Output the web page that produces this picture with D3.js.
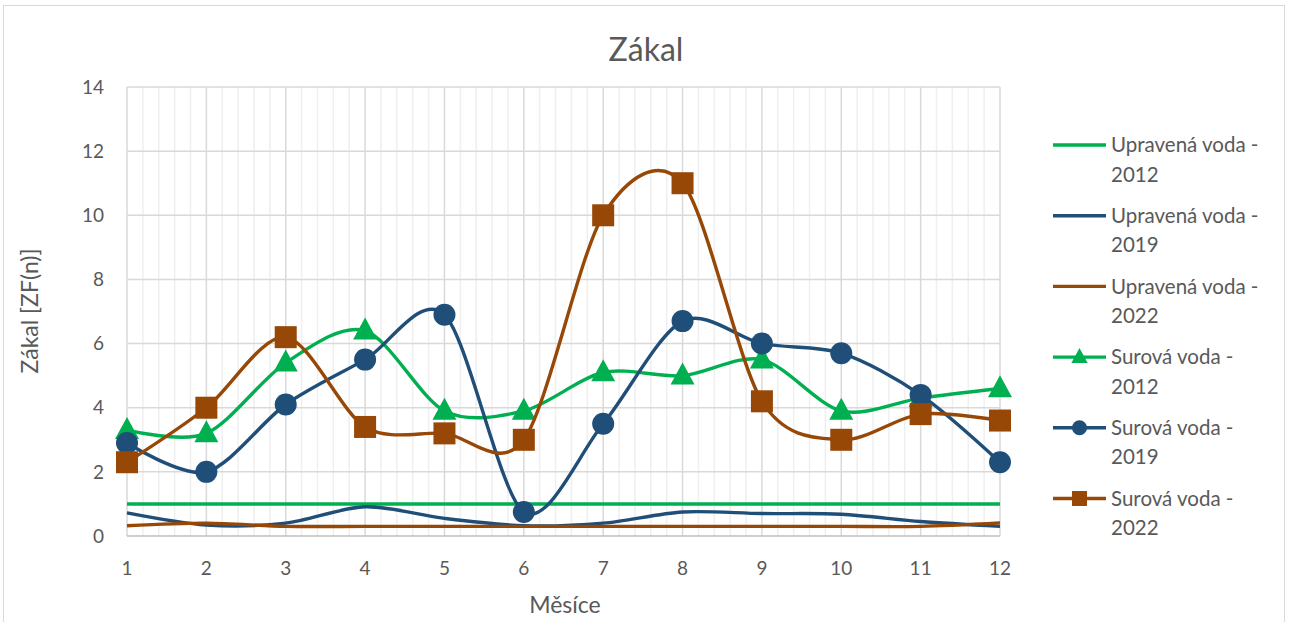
<!DOCTYPE html>
<html>
<head>
<meta charset="utf-8">
<script src="https://cdn.jsdelivr.net/npm/d3@7"></script>
<style>
  body { margin: 0; background: #fff; }
  text { font-family: Lato, "Noto Sans", sans-serif; fill: #595959; }
</style>
</head>
<body>
<svg id="chart" width="1290" height="622"></svg>
<script>
const months = [1, 2, 3, 4, 5, 6, 7, 8, 9, 10, 11, 12];
const yTicks = [0, 2, 4, 6, 8, 10, 12, 14];

const upravena2012 = [1, 1, 1, 1, 1, 1, 1, 1, 1, 1, 1, 1];
const upravena2019 = [0.72, 0.34, 0.4, 0.91, 0.55, 0.32, 0.4, 0.75, 0.7, 0.68, 0.45, 0.3];
const upravena2022 = [0.32, 0.4, 0.3, 0.3, 0.3, 0.3, 0.3, 0.3, 0.3, 0.3, 0.3, 0.41];
const surova2012 = [3.3, 3.2, 5.4, 6.4, 3.9, 3.9, 5.1, 5.0, 5.5, 3.9, 4.3, 4.6];
const surova2019 = [2.9, 2.0, 4.1, 5.5, 6.9, 0.75, 3.5, 6.7, 6.0, 5.7, 4.4, 2.3];
const surova2022 = [2.3, 4.0, 6.2, 3.4, 3.2, 3.0, 10.0, 11.0, 4.2, 3.0, 3.8, 3.6];

const green = "#00b050", blue = "#1f4e79", brown = "#974706";

const series = [
  { name: ["Upravená voda -", "2012"], values: upravena2012, color: green, marker: null },
  { name: ["Upravená voda -", "2019"], values: upravena2019, color: blue, marker: null },
  { name: ["Upravená voda -", "2022"], values: upravena2022, color: brown, marker: null },
  { name: ["Surová voda -", "2012"], values: surova2012, color: green, marker: "triangle" },
  { name: ["Surová voda -", "2019"], values: surova2019, color: blue, marker: "circle" },
  { name: ["Surová voda -", "2022"], values: surova2022, color: brown, marker: "square" }
];

const svg = d3.select("#chart");

// outer chart border
svg.append("rect")
  .attr("x", 3.5).attr("y", 5.5)
  .attr("width", 1281).attr("height", 622)
  .attr("fill", "#fff")
  .attr("stroke", "#d9d9d9");

const x = d3.scaleLinear().domain([1, 12]).range([127, 1000]);
const y = d3.scaleLinear().domain([0, 14]).range([536, 87]);

// minor vertical grid
let minor = d3.range(1, 12.001, 0.2).filter(v => Math.abs(v - Math.round(v)) > 0.01);
svg.append("g").selectAll("line")
  .data(minor)
  .enter()
  .append("line")
  .attr("x1", d => x(d)).attr("x2", d => x(d))
  .attr("y1", y(14)).attr("y2", y(0))
  .attr("stroke", "#efefef")
  .attr("stroke-width", 1.5);

// major vertical grid
svg.append("g").selectAll("line")
  .data(months)
  .enter()
  .append("line")
  .attr("x1", d => x(d)).attr("x2", d => x(d))
  .attr("y1", y(14)).attr("y2", y(0))
  .attr("stroke", "#d9d9d9")
  .attr("stroke-width", 1.5);

// horizontal grid
svg.append("g").selectAll("line")
  .data(yTicks.slice(1))
  .enter()
  .append("line")
  .attr("x1", x(1)).attr("x2", x(12))
  .attr("y1", d => y(d)).attr("y2", d => y(d))
  .attr("stroke", "#d9d9d9")
  .attr("stroke-width", 1.5);

// x axis line
svg.append("line")
  .attr("x1", x(1)).attr("x2", x(12))
  .attr("y1", y(0)).attr("y2", y(0))
  .attr("stroke", "#bfbfbf")
  .attr("stroke-width", 1.5);

// y tick labels
svg.append("g").selectAll("text")
  .data(yTicks)
  .enter()
  .append("text")
  .attr("x", 104)
  .attr("y", d => y(d))
  .attr("dy", "0.35em")
  .attr("text-anchor", "end")
  .attr("font-size", 19)
  .text(d => d);

// x tick labels
svg.append("g").selectAll("text")
  .data(months)
  .enter()
  .append("text")
  .attr("x", d => x(d))
  .attr("y", 568)
  .attr("dy", "0.35em")
  .attr("text-anchor", "middle")
  .attr("font-size", 19)
  .text(d => d);

// titles
svg.append("text")
  .attr("x", 646).attr("y", 50)
  .attr("dy", "0.35em")
  .attr("text-anchor", "middle")
  .attr("font-size", 32)
  .text("Zákal");

svg.append("text")
  .attr("x", 565).attr("y", 605)
  .attr("dy", "0.35em")
  .attr("text-anchor", "middle")
  .attr("font-size", 23)
  .text("Měsíce");

svg.append("text")
  .attr("transform", "translate(30,311) rotate(-90)")
  .attr("dy", "0.35em")
  .attr("text-anchor", "middle")
  .attr("font-size", 23)
  .text("Zákal [ZF(n)]");

const line = d3.line()
  .x((d, i) => x(months[i]))
  .y(d => y(d))
  .curve(d3.curveCardinal.tension(0.1));

let drawMarker = (g, type, color, cx, cy, scale) => {
  if (type === "circle") {
    g.append("circle").attr("cx", cx).attr("cy", cy).attr("r", 11 * scale).attr("fill", color);
  } else if (type === "square") {
    let s = 22 * scale;
    g.append("rect").attr("x", cx - s / 2).attr("y", cy - s / 2)
      .attr("width", s).attr("height", s).attr("fill", color);
  } else if (type === "triangle") {
    let h = 22 * scale, w = 24 * scale;
    g.append("path")
      .attr("d", `M${cx},${cy - h * 0.6}L${cx + w / 2},${cy + h * 0.4}L${cx - w / 2},${cy + h * 0.4}Z`)
      .attr("fill", color);
  }
};

const plot = svg.append("g");
series.forEach(s => {
  plot.append("path")
    .datum(s.values)
    .attr("d", line)
    .attr("fill", "none")
    .attr("stroke", s.color)
    .attr("stroke-width", 3.4);
  if (s.marker) {
    s.values.forEach((v, i) => drawMarker(plot, s.marker, s.color, x(months[i]), y(v), 1));
  }
});

// legend
const legend = svg.append("g");
series.forEach((s, i) => {
  let ly = 145 + i * 70.7;
  legend.append("line")
    .attr("x1", 1053).attr("x2", 1106)
    .attr("y1", ly).attr("y2", ly)
    .attr("stroke", s.color)
    .attr("stroke-width", 3.4);
  if (s.marker) drawMarker(legend, s.marker, s.color, 1079.5, ly, 0.68);
  legend.append("text")
    .attr("x", 1111).attr("y", ly)
    .attr("dy", "0.35em")
    .attr("font-size", 20.5)
    .text(s.name[0]);
  legend.append("text")
    .attr("x", 1111).attr("y", ly + 29.5)
    .attr("dy", "0.35em")
    .attr("font-size", 20.5)
    .text(s.name[1]);
});
</script>
</body>
</html>
